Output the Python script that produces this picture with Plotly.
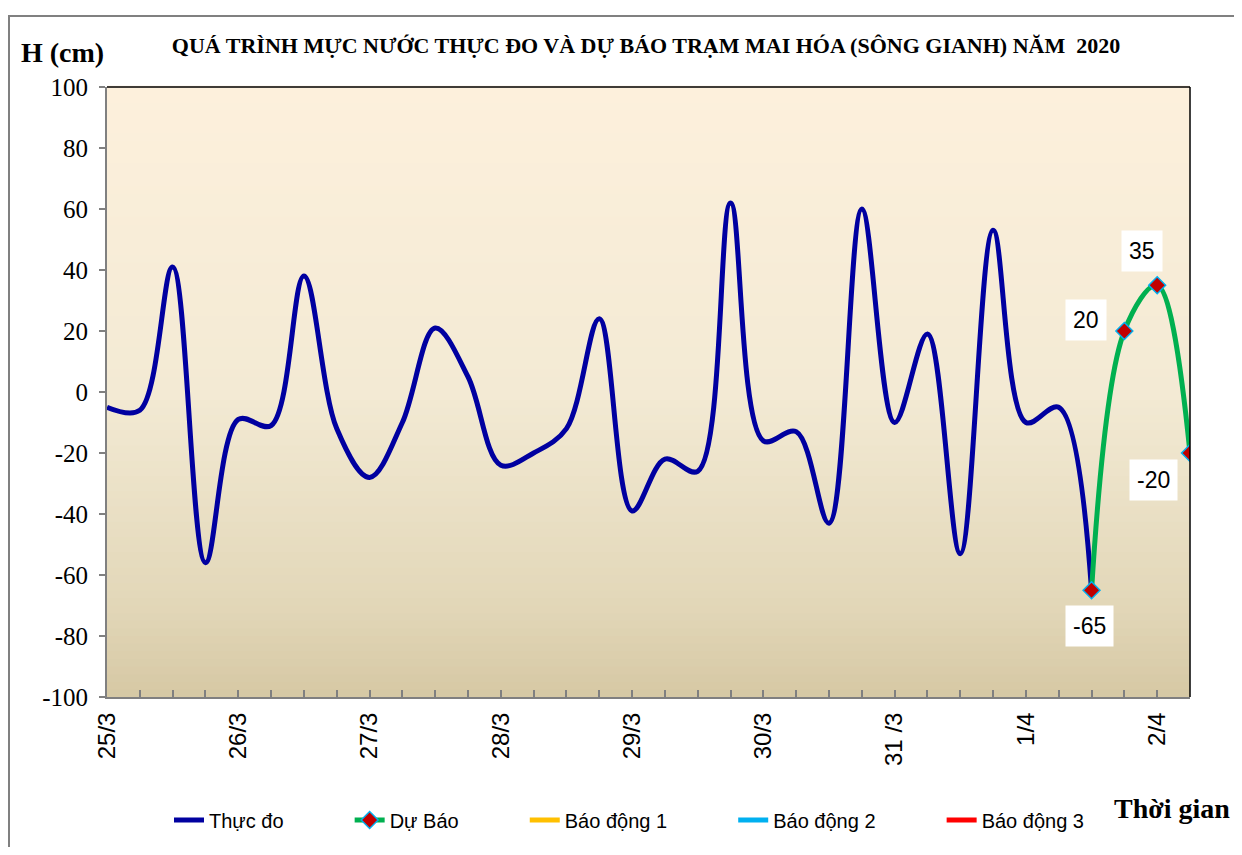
import plotly.graph_objects as go
import pandas as pd

# ---------------- data ----------------
start_time = "2020-03-25 00:00"
step = "6h"
observed = [-5, -6, 41, -56, -9, -11, 38, -12, -28, -10, 21, 5, -24, -20,
            -12, 24, -39, -22, -26, 62, -16, -13, -43, 60, -10, 19, -53, 53,
            -10, -5, -65]
forecast = [-65, 20, 35, -20]
forecast_start_index = len(observed) - 1

day_ticks = ["2020-03-25", "2020-03-26", "2020-03-27", "2020-03-28", "2020-03-29",
             "2020-03-30", "2020-03-31", "2020-04-01", "2020-04-02"]
day_labels = ["25/3", "26/3", "27/3", "28/3", "29/3", "30/3", "31 /3", "1/4", "2/4"]
y_ticks = [-100, -80, -60, -40, -20, 0, 20, 40, 60, 80, 100]
y_labels = ["-100", "-80", "-60", "-40", "-20", "0", "20", "40", "60", "80", "100"]

legend_names = ["Thực đo", "Dự Báo", "Báo động 1", "Báo động 2", "Báo động 3"]
title_text = "QUÁ TRÌNH MỰC NƯỚC THỰC ĐO VÀ DỰ BÁO TRẠM MAI HÓA (SÔNG GIANH) NĂM  2020"

# ---------------- build ----------------
W, H = 1226, 839
ML, MR, MT, MB = 99, 44, 79, 150
PW, PH = W - ML - MR, H - MT - MB
SERIF = "Liberation Serif"
SANS = "Liberation Sans"

times = pd.date_range(start_time, periods=len(observed) + len(forecast) - 1, freq=step)
t_obs = times[:len(observed)]
t_fc = times[forecast_start_index:forecast_start_index + len(forecast)]

pad = [11, 11, 11, 11, 0]
shown = [n + "\u00a0" * p for n, p in zip(legend_names, pad)]

fig = go.Figure()
fig.add_trace(go.Scatter(
    x=t_obs, y=observed, name=shown[0], mode="lines",
    line=dict(color="#0000A0", width=5, shape="spline", smoothing=1.0),
))
fig.add_trace(go.Scatter(
    x=t_fc, y=forecast, name=shown[1], mode="lines+markers",
    line=dict(color="#00B050", width=5, shape="spline", smoothing=1.0),
    marker=dict(symbol="diamond", size=13, color="#C00000",
                line=dict(color="#00B0F0", width=1.5)),
))
for nm, col in zip(shown[2:], ["#FFC000", "#00B0F0", "#FF0000"]):
    fig.add_trace(go.Scatter(x=[None], y=[None], name=nm, mode="lines",
                             line=dict(color=col, width=5)))

# data labels for forecast points
offsets = [(-2, -36), (-38, 11), (-15, 34), (-37, -27)]
for t, v, (dx, dy) in zip(t_fc, forecast, offsets):
    fig.add_annotation(x=t, y=v, text=str(v), showarrow=False,
                       xshift=dx, yshift=dy, bgcolor="white", borderpad=7,
                       font=dict(family=SANS, size=23, color="black"))

# background gradient of the plot area
stops = [(0.0, (0xD6, 0xC8, 0xA4)), (0.15, (0xE2, 0xD7, 0xB8)),
         (0.5, (0xF3, 0xEA, 0xD4)), (1.0, (0xFD, 0xF0, 0xDC))]
N = 80
def col_at(f):
    for (f0, c0), (f1, c1) in zip(stops[:-1], stops[1:]):
        if f0 <= f <= f1:
            r = (f - f0) / (f1 - f0)
            return "rgb(%d,%d,%d)" % tuple(round(a + (b - a) * r) for a, b in zip(c0, c1))
    return "rgb(%d,%d,%d)" % stops[-1][1]
for i in range(N):
    y0, y1 = i / N, (i + 1) / N
    fig.add_shape(type="rect", xref="x domain", yref="y domain",
                  x0=0, x1=1, y0=y0, y1=y1 + 0.002, layer="below",
                  line=dict(width=0), fillcolor=col_at((y0 + y1) / 2))

# black top / right frame of the plot area
fig.add_shape(type="line", xref="x domain", yref="y domain", x0=0, x1=1, y0=1, y1=1,
              line=dict(color="black", width=1.5))
fig.add_shape(type="line", xref="x domain", yref="y domain", x0=1, x1=1, y0=0, y1=1,
              line=dict(color="black", width=1.5))

# outer chart border (left and top visible)
fig.add_shape(type="rect", xref="paper", yref="paper",
              x0=(1 - ML) / PW, x1=(W + 20 - ML) / PW,
              y0=-(MB + 20) / PH, y1=1 + (MT - 8) / PH,
              line=dict(color="#808080", width=2), layer="below")

fig.update_layout(
    width=W, height=H,
    margin=dict(l=ML, r=MR, t=MT, b=MB),
    paper_bgcolor="white", plot_bgcolor="#F3EAD4",
    title=dict(text=title_text, x=638 / W, xanchor="center", y=1 - 37 / H,
               yanchor="middle",
               font=dict(family=SERIF, size=22, color="black", weight="bold")),
    showlegend=True,
    legend=dict(orientation="h", x=161 / W, xref="container", xanchor="left",
                y=1 - 812 / H, yref="container", yanchor="middle",
                font=dict(family=SANS, size=20, color="black"),
                bgcolor="rgba(0,0,0,0)"),
    xaxis=dict(type="date", range=[times[0], times[-1]],
               tickmode="array", tickvals=day_ticks, ticktext=day_labels,
               tickangle=-90, ticklabelstandoff=4,
               tickfont=dict(family=SANS, size=24, color="black"),
               ticks="inside", ticklen=7, tickcolor="#808080", tickwidth=1.5,
               minor=dict(tickmode="linear", tick0=start_time, dtick=6 * 3600 * 1000,
                          ticks="inside", ticklen=7, tickcolor="#808080", tickwidth=1.5),
               showgrid=False, zeroline=False,
               showline=True, linecolor="#808080", linewidth=2),
    yaxis=dict(range=[-100, 100], tickmode="array", tickvals=y_ticks, ticktext=y_labels,
               tickfont=dict(family=SERIF, size=25, color="black"),
               ticklabelstandoff=6,
               ticks="outside", ticklen=6, tickcolor="#808080", tickwidth=1.5,
               showgrid=False, zeroline=False,
               showline=True, linecolor="#808080", linewidth=2),
)

fig.add_annotation(xref="paper", yref="paper", x=(11 - ML) / PW, y=1 + 35 / PH,
                   xanchor="left", yanchor="middle", showarrow=False,
                   text="<b>H (cm)</b>",
                   font=dict(family=SERIF, size=28, color="black"))
fig.add_annotation(xref="paper", yref="paper", x=1 + 42 / PW, y=-111 / PH,
                   xanchor="right", yanchor="middle", showarrow=False,
                   text="<b>Thời gian</b>",
                   font=dict(family=SERIF, size=28, color="black"))

fig.write_html("out.html")
